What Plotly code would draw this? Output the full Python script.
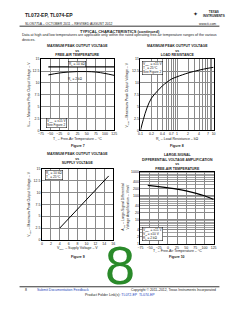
import plotly.graph_objects as go

W, H = 240, 310

# ---------------- data ----------------
# Figure 7: max peak output voltage vs free-air temperature
temp7 = [-55, -25, 0, 25, 50, 75, 100, 125]
vom_10k = [13.4, 13.4, 13.4, 13.4, 13.4, 13.4, 13.4, 13.4]
vom_2k = [11.7, 12.1, 12.3, 12.4, 12.4, 12.3, 12.0, 11.6]
# Figure 8: max peak output voltage vs load resistance
rl8 = [0.1, 0.12, 0.15, 0.2, 0.3, 0.4, 0.7, 1, 2, 4, 7, 10]
vom8 = [0, 2.3, 4.7, 6.8, 8.4, 9.4, 10.8, 11.3, 12.1, 12.7, 13.1, 13.3]
# Figure 9: max peak output voltage vs supply voltage
vcc9 = [4, 9, 15]
vom9 = [2.5, 7.5, 13.5]
# Figure 10: large-signal differential voltage amplification vs temperature
temp10 = [-55, -25, 0, 25, 50, 75, 100, 125]
avd10 = [270, 240, 215, 190, 160, 130, 100, 70]

vom_ticks = [0, 2.5, 5, 7.5, 10, 12.5, 15]
vom_ticktext = ["0", "2.5", "5", "7.5", "10", "12.5", "15"]
temp_ticks = [-75, -50, -25, 0, 25, 50, 75, 100, 125]
rl_ticks = [0.1, 0.2, 0.4, 0.7, 1, 2, 4, 7, 10]
rl_ticktext = ["0.1", "0.2", "0.4", "0.7", "1", "2", "4", "7", "10"]
rl_minor = [0.3, 0.5, 0.6, 0.8, 0.9, 3, 5, 6, 8, 9]
vcc_ticks = [0, 2, 4, 6, 8, 10, 12, 14, 16]
avd_ticks = [1, 2, 4, 10, 20, 40, 100, 200, 400, 1000]
avd_ticktext = ["1", "2", "4", "10", "20", "40", "100", "200", "400", "1000"]
avd_minor = [3, 5, 6, 7, 8, 9, 30, 50, 60, 70, 80, 90, 300, 500, 600, 700, 800, 900]

FONT = "Liberation Sans, Arial, sans-serif"
S = 3.5  # base small-text size


def px(x):
    return x / W


def py(y):
    return 1 - y / H


fig = go.Figure()
line = dict(color="black", width=1)
fig.add_trace(go.Scatter(x=temp7, y=vom_10k, mode="lines", line=dict(color="black", width=1.3),
                         xaxis="x", yaxis="y"))
fig.add_trace(go.Scatter(x=temp7, y=vom_2k, mode="lines", line=dict(color="black", width=1, shape="spline"),
                         xaxis="x", yaxis="y"))
fig.add_trace(go.Scatter(x=rl8, y=vom8, mode="lines", line=dict(color="black", width=1, shape="spline"),
                         xaxis="x2", yaxis="y2"))
fig.add_trace(go.Scatter(x=vcc9, y=vom9, mode="lines", line=line, xaxis="x3", yaxis="y3"))
fig.add_trace(go.Scatter(x=temp10, y=avd10, mode="lines", line=dict(color="black", width=1.2, shape="spline"),
                         xaxis="x4", yaxis="y4"))

GRID = "#8a8a8a"
ax = dict(showline=True, mirror=True, linecolor="black", linewidth=0.8, showgrid=True,
          gridcolor=GRID, gridwidth=0.5, zeroline=False, ticks="", tickfont=dict(size=S, color="#222"),
          ticklen=0)

fig.update_layout(
    width=W, height=H, margin=dict(l=0, r=0, t=0, b=0), showlegend=False,
    paper_bgcolor="white", plot_bgcolor="white", font=dict(family=FONT, color="#222"),
    xaxis=dict(ax, domain=[px(39), px(114)], range=[-75, 125], tickvals=temp_ticks, anchor="y"),
    yaxis=dict(ax, domain=[py(130), py(58)], range=[0, 15], tickvals=vom_ticks, ticktext=vom_ticktext, anchor="x"),
    xaxis2=dict(ax, domain=[px(141), px(216)], type="log", range=[-1, 1], tickvals=rl_ticks,
                ticktext=rl_ticktext, anchor="y2",
                minor=dict(tickvals=rl_minor, showgrid=True, gridcolor=GRID, gridwidth=0.5, ticklen=0)),
    yaxis2=dict(ax, domain=[py(130), py(58)], range=[0, 15], tickvals=vom_ticks, ticktext=vom_ticktext, anchor="x2"),
    xaxis3=dict(ax, domain=[px(40), px(113)], range=[0, 16], tickvals=vcc_ticks, anchor="y3"),
    yaxis3=dict(ax, domain=[py(241), py(169)], range=[0, 15], tickvals=vom_ticks, ticktext=vom_ticktext, anchor="x3"),
    xaxis4=dict(ax, domain=[px(141), px(216)], range=[-75, 125], tickvals=temp_ticks, anchor="y4"),
    yaxis4=dict(ax, domain=[py(245), py(172)], type="log", range=[0, 3], tickvals=avd_ticks,
                ticktext=avd_ticktext, anchor="x4",
                minor=dict(tickvals=avd_minor, showgrid=True, gridcolor="#a0a0a0", gridwidth=0.4, ticklen=0)),
)

ann = []


def text(x, y, s, size=S, anchor="center", bold=False, color="#222", angle=0, **kw):
    if bold:
        s = "<b>" + s + "</b>"
    d = dict(x=px(x), y=py(y), xref="paper", yref="paper", text=s, showarrow=False,
             font=dict(size=size, color=color, family=FONT), xanchor=anchor, yanchor="middle",
             textangle=angle)
    d.update(kw)
    ann.append(d)


BOX = dict(bgcolor="white", bordercolor="black", borderwidth=0.5, borderpad=0.5)

# header
text(20, 13, "TL072-EP, TL074-EP", size=5, anchor="left", bold=True)
text(20, 22, "SLOS775A – OCTOBER 2011 – REVISED AUGUST 2012", size=3.4, anchor="left")
text(220, 22, "www.ti.com", size=3.4, anchor="right")
text(203, 12, "<b>TEXAS</b><br><b>INSTRUMENTS</b>", size=3, anchor="left")
text(197, 12, "✦", size=6, anchor="center")
text(120, 30, "TYPICAL CHARACTERISTICS (continued)", size=4, bold=True)
text(17, 35.8, "Data at high and low temperatures are applicable only within the rated operating free-air temperature ranges of the various<br>devices.",
     size=3.6, anchor="left", align="left")

# Figure 7
text(76.5, 49, "MAXIMUM PEAK OUTPUT VOLTAGE<br>vs<br>FREE-AIR TEMPERATURE", size=S, bold=True)
text(76, 62.5, "R<sub>L</sub> = 10 kΩ", size=3.2, **BOX)
text(74, 78, "R<sub>L</sub> = 2 kΩ", size=3.2)
text(44, 123, "V<sub>CC±</sub> = ±15 V<br>See Figure 2", size=3.2, anchor="left", align="left", **BOX)
text(76.5, 139.5, "T<sub>A</sub> – Free-Air Temperature – °C", size=S)
text(76.5, 146, "Figure 7", size=S, bold=True)
text(27, 94, "V<sub>OM</sub> – Maximum Peak Output Voltage – V", size=S, angle=-90)

# Figure 8
text(178.5, 49, "MAXIMUM PEAK OUTPUT VOLTAGE<br>vs<br>LOAD RESISTANCE", size=S, bold=True)
text(143, 67, "V<sub>CC±</sub> = ±15 V<br>T<sub>A</sub> = 25°C<br>See Figure 2", size=3.2, anchor="left", align="left", **BOX)
text(178.5, 139.5, "R<sub>L</sub> – Load Resistance – kΩ", size=S)
text(178.5, 146, "Figure 8", size=S, bold=True)
text(128, 94, "V<sub>OM</sub> – Maximum Peak Output Voltage – V", size=S, angle=-90)

# Figure 9
text(76.5, 159, "MAXIMUM PEAK OUTPUT VOLTAGE<br>vs<br>SUPPLY VOLTAGE", size=S, bold=True)
text(43, 175.5, "R<sub>L</sub> = 10 kΩ<br>T<sub>A</sub> = 25°C", size=3.2, anchor="left", align="left", **BOX)
text(76.5, 249.5, "V<sub>CC±</sub> – Supply Voltage – V", size=S)
text(76.5, 258, "Figure 9", size=S, bold=True)
text(27, 205, "V<sub>OM</sub> – Maximum Peak Output Voltage – V", size=S, angle=-90)

# Figure 10
text(178.5, 162, "LARGE-SIGNAL<br>DIFFERENTIAL VOLTAGE AMPLIFICATION<br>vs<br>FREE-AIR TEMPERATURE", size=S, bold=True)
text(143, 235, "V<sub>CC±</sub> = ±15 V<br>V<sub>O</sub> = ±10 V<br>R<sub>L</sub> = 2 kΩ", size=3.2, anchor="left", align="left", **BOX)
text(178.5, 253, "T<sub>A</sub> – Free-Air Temperature – °C", size=S)
text(178.5, 258.5, "Figure 10", size=S, bold=True)
text(125.5, 208, "A<sub>VD</sub> – Large-Signal Differential<br>Voltage Amplification – V/mV", size=S, angle=-90)

# big green 8
text(120, 266, "8", size=54, color="#2a8a2a")

# footer
text(20, 291.5, "8", size=S, anchor="left")
text(33, 291.5, "Submit Documentation Feedback", size=S, anchor="left", color="#2244bb")
text(220, 291.5, "Copyright © 2011–2012, Texas Instruments Incorporated", size=3.4, anchor="right")
text(120, 296.5, "Product Folder Link(s): <span style='color:#2244bb'>TL072-EP  TL074-EP</span>", size=S)

fig.update_layout(annotations=ann)

fig.update_layout(shapes=[
    dict(type="line", xref="paper", yref="paper", x0=px(17), x1=px(222), y0=py(24.5), y1=py(24.5),
         line=dict(color="black", width=0.8)),
    dict(type="line", xref="paper", yref="paper", x0=px(17), x1=px(222), y0=py(288.5), y1=py(288.5),
         line=dict(color="black", width=0.8)),
])

fig.write_html("out.html")
